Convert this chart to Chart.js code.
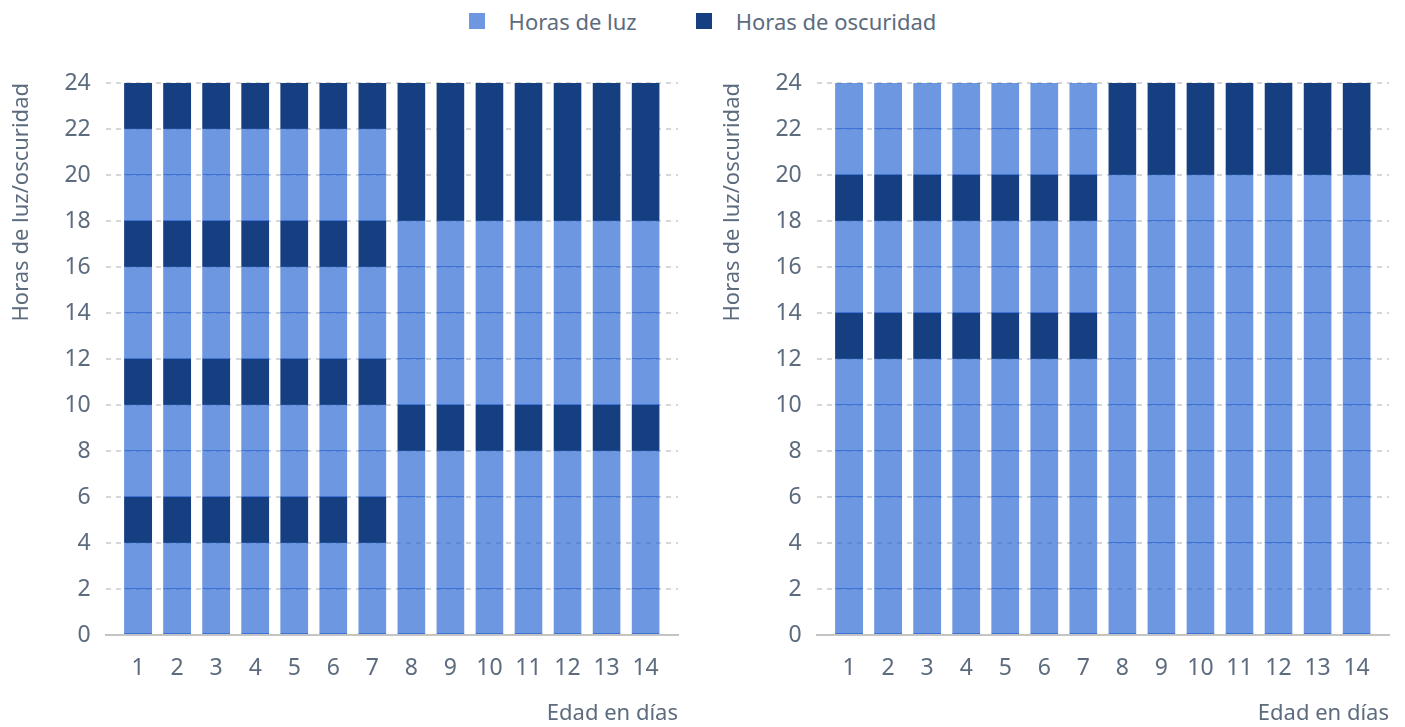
<!DOCTYPE html>
<html>
<head>
<meta charset="utf-8">
<script src="https://cdn.jsdelivr.net/npm/chart.js@4"></script>
<style>
  body { margin: 0; background: #fff; font-family: "Noto Sans", sans-serif; }
  #wrap { position: relative; width: 1405px; height: 727px; }
  #legend { position: absolute; top: 6px; left: 0; width: 1405px; display: flex; justify-content: center; align-items: center; color: #5c6b7e; font-size: 22px; }
  #legend .item { display: flex; align-items: center; }
  #legend .box { width: 16px; height: 16px; margin-right: 24px; }
  .c { position: absolute; top: 0; }
</style>
</head>
<body>
<div id="wrap">
  <div id="legend"></div>
  <div class="c" style="left:0;width:694px;height:727px"><canvas id="izq"></canvas></div>
  <div class="c" style="left:711px;width:694px;height:727px"><canvas id="der"></canvas></div>
</div>
<script>
const dias = [1, 2, 3, 4, 5, 6, 7, 8, 9, 10, 11, 12, 13, 14];
const yTicks = [0, 2, 4, 6, 8, 10, 12, 14, 16, 18, 20, 22, 24];

// tramos de cada barra, de abajo arriba (horas); L = luz, O = oscuridad
// grafico izquierdo
const izqTramos1 = [2, 2, 2, 2, 2, 2, 2, 2, 2, 2, 2, 2];   // dias 1-7
const izqTipos1  = 'LLOLLOLLOLLO';
const izqTramos2 = [2, 4, 2, 2, 2, 2, 2, 2, 6];            // dias 8-14
const izqTipos2  = 'LLLOLLLLO';
// grafico derecho
const derTramos1 = [2, 4, 2, 2, 2, 2, 2, 2, 2, 2, 2];      // dias 1-7
const derTipos1  = 'LLLLLOLLOLL';
const derTramos2 = [4, 2, 2, 2, 2, 2, 2, 2, 2, 4];         // dias 8-14
const derTipos2  = 'LLLLLLLLLO';

const series = ['Horas de luz', 'Horas de oscuridad'];
const colLuz = 'rgba(30, 95, 208, 0.65)';
const colLuzLeyenda = '#6d97e0';
const colOsc = '#163f81';
const txt = '#5c6b7e';
const fuente = '"Noto Sans", sans-serif';

// leyenda comun
const leg = document.getElementById('legend');
series.forEach(function (s, i) {
  const it = document.createElement('div');
  it.className = 'item';
  it.style.marginRight = i === 0 ? '59px' : '0';
  it.innerHTML = '<span class="box" style="background:' + (i === 0 ? colLuzLeyenda : colOsc) + '"></span><span>' + s + '</span>';
  leg.appendChild(it);
});

function buildDatasets(tr1, tp1, tr2, tp2) {
  const n = Math.max(tr1.length, tr2.length);
  const ds = [];
  for (let k = 0; k < n; k++) {
    const data = [], bg = [], bc = [];
    dias.forEach(function (d) {
      const tr = d <= 7 ? tr1 : tr2;
      const tp = d <= 7 ? tp1 : tp2;
      data.push(k < tr.length ? tr[k] : null);
      const luz = tp[k] === 'L';
      bg.push(luz ? colLuz : colOsc);
      bc.push(luz ? '#3d72d6' : '#1e4c94');
    });
    ds.push({
      label: 'tramo ' + (k + 1),
      data: data,
      backgroundColor: bg,
      borderColor: bc,
      borderWidth: { top: 0, left: 0, right: 0, bottom: 1 },
      borderSkipped: false
    });
  }
  return ds;
}

function makeChart(id, datasets) {
  const ctx = document.getElementById(id).getContext('2d');
  return new Chart(ctx, {
    type: 'bar',
    data: { labels: dias, datasets: datasets },
    options: {
      responsive: true,
      maintainAspectRatio: false,
      animation: false,
      layout: { padding: { left: 5, top: 83, right: 16, bottom: 0 } },
      plugins: {
        legend: { display: false },
        tooltip: { enabled: false }
      },
      scales: {
        x: {
          type: 'linear',
          stacked: true,
          offset: false,
          min: 0.17,
          max: 14.83,
          afterBuildTicks: function (axis) {
            axis.ticks = dias.map(function (v) { return { value: v }; });
          },
          grid: { display: false, offset: false },
          border: { display: true, color: '#c4c4c4', width: 2 },
          ticks: { color: txt, font: { family: fuente, size: 23 }, padding: 12, autoSkip: false, maxRotation: 0 },
          title: {
            display: true,
            text: 'Edad en días',
            align: 'end',
            color: txt,
            font: { family: fuente, size: 22 },
            padding: { top: 6, bottom: 0 }
          }
        },
        y: {
          stacked: true,
          min: 0,
          max: 24,
          afterBuildTicks: function (axis) {
            axis.ticks = yTicks.map(function (v) { return { value: v }; });
          },
          grid: { color: '#d6d6d6', lineWidth: 2, drawTicks: false },
          border: { display: false, dash: [5, 5] },
          ticks: { color: txt, font: { family: fuente, size: 23 }, padding: 15 },
          title: {
            display: true,
            text: 'Horas de luz/oscuridad',
            align: 'end',
            color: txt,
            font: { family: fuente, size: 22 },
            padding: { top: 4, bottom: 14 }
          }
        }
      }
    }
  });
}

makeChart('izq', buildDatasets(izqTramos1, izqTipos1, izqTramos2, izqTipos2));
makeChart('der', buildDatasets(derTramos1, derTipos1, derTramos2, derTipos2));
</script>
</body>
</html>
